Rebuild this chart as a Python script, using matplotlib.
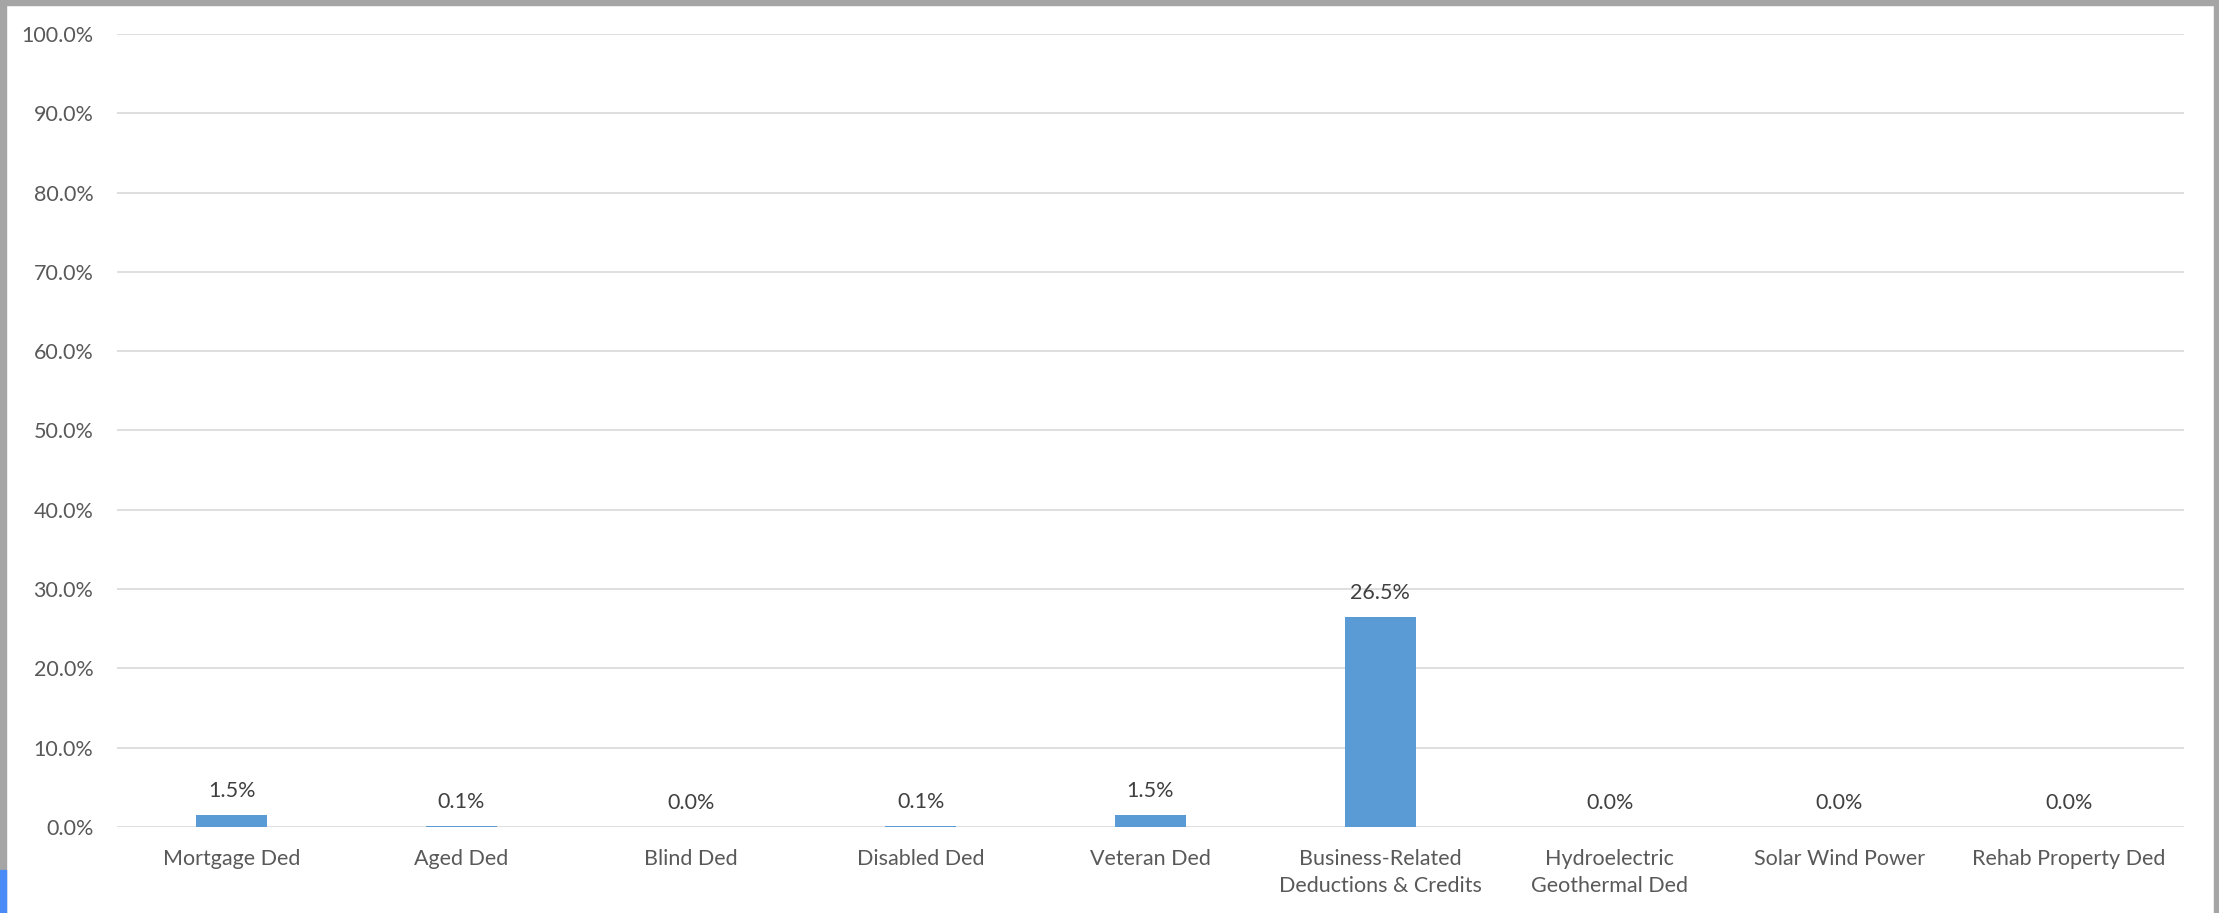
import matplotlib
import numpy as np

matplotlib.use("Agg")
import matplotlib.pyplot as plt  # noqa: E402
from matplotlib.patches import Rectangle  # noqa: E402

categories = [
    "Mortgage Ded",
    "Aged Ded",
    "Blind Ded",
    "Disabled Ded",
    "Veteran Ded",
    "Business-Related\nDeductions & Credits",
    "Hydroelectric\nGeothermal Ded",
    "Solar Wind Power",
    "Rehab Property Ded",
]
shares = [1.5, 0.1, 0.0, 0.1, 1.5, 26.5, 0.0, 0.0, 0.0]
y_ticks = [0, 10, 20, 30, 40, 50, 60, 70, 80, 90, 100]

plt.rcParams["font.family"] = ["Lato", "DejaVu Sans"]

fig = plt.figure(figsize=(22.19, 9.13), dpi=100)
ax = fig.add_axes([117 / 2219, 1 - 827 / 913, 2067 / 2219, 793 / 913])

x = np.arange(len(categories))
ax.bar(x, shares, width=0.31, color="#5B9BD5", zorder=3)
for xi, v in zip(x, shares):
    ax.annotate(f"{v:.1f}%", (xi, v), xytext=(0, 10), textcoords="offset points",
                ha="center", va="bottom", fontsize=15.5, color="#404040")

ax.set_xlim(-0.5, len(categories) - 0.5)
ax.set_ylim(0, 100)
ax.set_yticks(y_ticks)
ax.set_yticklabels([f"{t:.1f}%" for t in y_ticks])
ax.set_xticks(x)
ax.set_xticklabels(categories, linespacing=1.45)
ax.tick_params(axis="both", length=0, labelsize=15.5, labelcolor="#595959")
ax.tick_params(axis="y", pad=17)
ax.tick_params(axis="x", pad=16)
ax.grid(True, axis="y", color="#D9D9D9", linewidth=1.2, zorder=0)
for s in ax.spines.values():
    s.set_visible(False)

# window frame around the chart
fig.patches.append(Rectangle((0, 1 - 5 / 913), 1, 5 / 913, transform=fig.transFigure,
                             color="#A5A5A5", zorder=0))
fig.patches.append(Rectangle((0, 0), 6 / 2219, 1, transform=fig.transFigure,
                             color="#A5A5A5", zorder=0))
fig.patches.append(Rectangle((1 - 5 / 2219, 0), 5 / 2219, 1, transform=fig.transFigure,
                             color="#A5A5A5", zorder=0))
fig.patches.append(Rectangle((0, 0), 6 / 2219, 43 / 913, transform=fig.transFigure,
                             color="#4A8CF7", zorder=1))

fig.savefig("out.png", dpi=100)
